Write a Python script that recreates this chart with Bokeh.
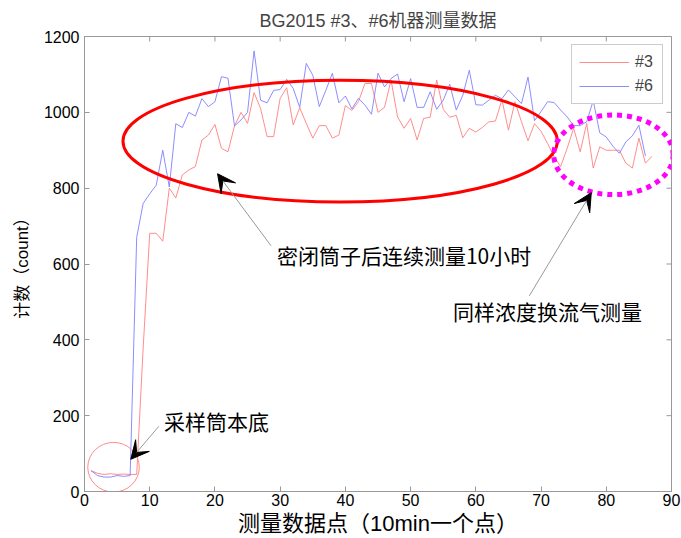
from bokeh.plotting import figure
from bokeh.models import (Range1d, Label, Arrow, VeeHead, Legend,
                          LegendItem, FixedTicker, ColumnDataSource)
from bokeh.embed import file_html
from bokeh.resources import INLINE

# ---- data ----
red_vals = [55, 48, 45, 47, 45, 46, 45, 45, 380, 681, 681, 660, 800, 774, 835, 848, 857,
            927, 940, 968, 905, 896, 964, 1000, 971, 1052, 1010, 936, 936, 1037, 1065,
            967, 1012, 971, 932, 965, 965, 932, 940, 1018, 1005, 1028, 1076, 1076, 1000,
            1013, 1085, 988, 958, 984, 927, 984, 987, 1085, 1008, 987, 992, 933, 958, 948,
            960, 975, 977, 1033, 953, 1028, 975, 925, 970, 950, 918, 883, 857, 905, 958,
            896, 971, 853, 909, 900, 900, 900, 866, 853, 932, 866, 884]
blue_vals = [55, 42, 38, 38, 42, 40, 42, 670, 760, 785, 808, 900, 803, 970, 960, 1000, 990,
             1036, 1015, 1028, 1094, 1090, 964, 980, 1000, 1162, 1032, 1025, 1058, 1060,
             1087, 1063, 1013, 1129, 1098, 1015, 1058, 1103, 1025, 1043, 1009, 1037, 1019,
             995, 1103, 1067, 1089, 1101, 1028, 1089, 1013, 1013, 1054, 1008, 1032, 1074,
             1006, 1045, 1111, 1020, 1019, 1032, 1045, 1036, 1059, 1041, 1023, 1093, 978,
             1002, 1028, 1026, 1006, 988, 965, 965, 975, 1031, 946, 935, 911, 892, 922, 938,
             966, 885]
red_x = list(range(1, len(red_vals) + 1))
blue_x = list(range(1, len(blue_vals) + 1))

x_ticks = [0, 10, 20, 30, 40, 50, 60, 70, 80, 90]
y_ticks = [0, 200, 400, 600, 800, 1000, 1200]

title_text = "BG2015 #3、#6机器测量数据"
x_label = "测量数据点（10min一个点）"
y_label = "计数（count）"
series_names = ["#3", "#6"]

# annotation shapes (data units): center x, center y, width, height
big_ellipse = (39.2, 924, 66.6, 321)
dot_ellipse = (81.1, 888, 18.3, 210)
small_circle = (4.45, 64, 7.9, 131)

# arrows: (x_start, y_start, x_end, y_end)
arrows = [(11.4, 172, 7.1, 85), (28.6, 648, 20.4, 838), (68.2, 516, 77.7, 788)]
notes = [("采样筒本底", 12.2, 185), ("密闭筒子后连续测量10小时", 29.5, 625),
         ("同样浓度换流气测量", 56.5, 477)]

CJK = "Noto Sans CJK SC"
MIX = "Liberation Sans, Noto Sans CJK SC"
LAT = "Liberation Sans"
X0, X1, Y0, Y1 = 0, 90, 0, 1200
FRAME_W, FRAME_H = 587, 456

p = figure(width=681, height=538, x_range=Range1d(X0, X1), y_range=Range1d(Y0, Y1),
           output_backend="svg", toolbar_location=None,
           min_border_left=84, min_border_right=10, min_border_top=36, min_border_bottom=46)
p.background_fill_color = "white"
p.border_fill_color = "white"
p.outline_line_color = "#999999"
p.xgrid.visible = False
p.ygrid.visible = False

p.title.text = title_text
p.title.align = "center"
p.title.text_font = MIX
p.title.text_font_style = "normal"
p.title.text_font_size = "18px"
p.title.standoff = 12

for ax, ticks in ((p.xaxis[0], x_ticks), (p.yaxis[0], y_ticks)):
    ax.ticker = FixedTicker(ticks=ticks)
    ax.major_tick_in = 5
    ax.major_tick_out = 0
    ax.minor_tick_line_color = None
    ax.axis_line_color = "#999999"
    ax.major_tick_line_color = "#999999"
    ax.major_label_text_font = LAT
    ax.major_label_text_font_size = "16px"
    ax.major_label_text_color = "black"
    ax.axis_label_text_font = MIX
    ax.axis_label_text_font_style = "normal"
    ax.axis_label_text_color = "black"

p.xaxis[0].axis_label = x_label
p.xaxis[0].axis_label_text_font_size = "22px"
p.xaxis[0].major_label_standoff = 2
p.xaxis[0].axis_label_standoff = 2
p.yaxis[0].axis_label = y_label
p.yaxis[0].axis_label_text_font_size = "17px"
p.yaxis[0].major_label_standoff = 5
p.yaxis[0].axis_label_standoff = 9

# inward ticks on the top and right edges of the box
tx = 5 * (X1 - X0) / FRAME_W
ty = 5 * (Y1 - Y0) / FRAME_H
p.segment(x0=x_ticks, y0=[Y1] * len(x_ticks), x1=x_ticks, y1=[Y1 - ty] * len(x_ticks),
          line_color="#999999", line_width=1)
p.segment(x0=[X1] * len(y_ticks), y0=y_ticks, x1=[X1 - tx] * len(y_ticks), y1=y_ticks,
          line_color="#999999", line_width=1)

src_r = ColumnDataSource(dict(x=red_x, y=red_vals))
src_b = ColumnDataSource(dict(x=blue_x, y=blue_vals))
r3 = p.line("x", "y", source=src_r, line_color="#ff8080", line_width=0.9)
r6 = p.line("x", "y", source=src_b, line_color="#8080ff", line_width=0.9)

# annotation shapes
p.ellipse(x=[big_ellipse[0]], y=[big_ellipse[1]], width=[big_ellipse[2]],
          height=[big_ellipse[3]], fill_color=None, line_color="#ff0000", line_width=3)
p.ellipse(x=[dot_ellipse[0]], y=[dot_ellipse[1]], width=[dot_ellipse[2]],
          height=[dot_ellipse[3]], fill_color=None, line_color="#ff00ff", line_width=5,
          line_dash="5 5", line_cap="butt")
p.ellipse(x=[small_circle[0]], y=[small_circle[1]], width=[small_circle[2]],
          height=[small_circle[3]], fill_color=None, line_color="#ff8a8a", line_width=1)

for xs, ys, xe, ye in arrows:
    p.add_layout(Arrow(x_start=xs, y_start=ys, x_end=xe, y_end=ye,
                       line_color="#999999", line_width=1,
                       end=VeeHead(size=18, fill_color="black", line_color="black",
                                   line_width=1)))

for txt, xx, yy in notes:
    p.add_layout(Label(x=xx, y=yy, text=txt, text_font=CJK, text_font_size="21px",
                       text_color="black", text_baseline="middle", text_align="left"))

legend = Legend(items=[LegendItem(label=series_names[0], renderers=[r3]),
                       LegendItem(label=series_names[1], renderers=[r6])],
                location="top_right", margin=8, padding=7, spacing=4,
                glyph_width=50, glyph_height=20, label_height=20, label_standoff=6,
                label_text_font=LAT, label_text_font_size="16px",
                border_line_color="#999999", background_fill_alpha=1)
p.add_layout(legend)

open("out.html", "w").write(file_html(p, INLINE))
